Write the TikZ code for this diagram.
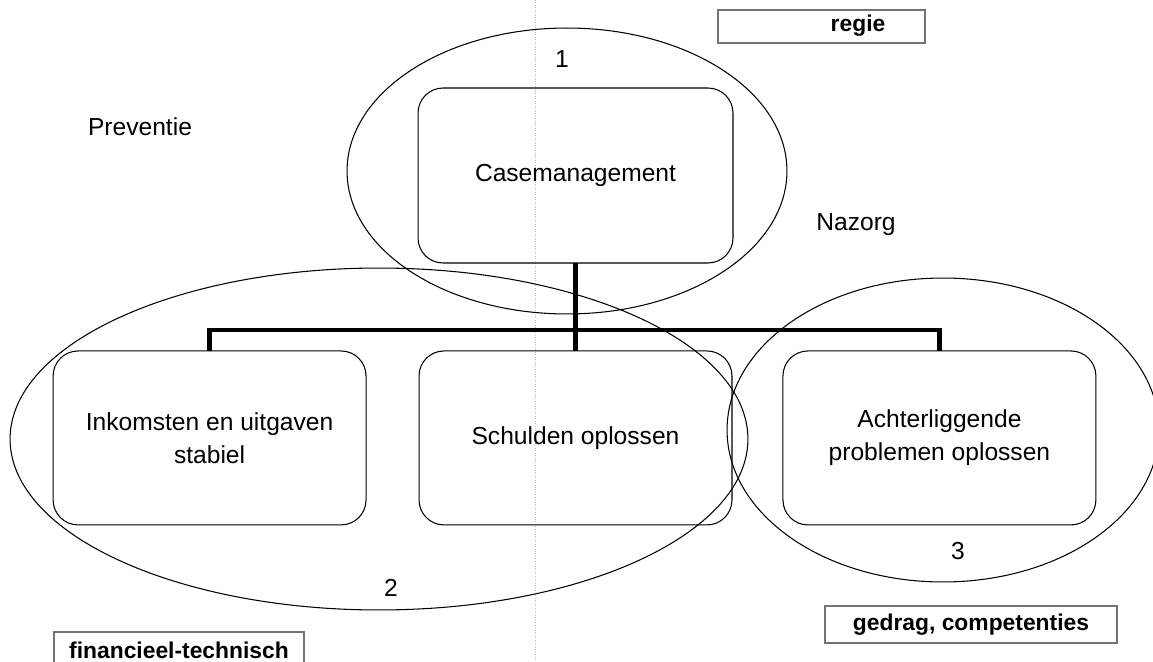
\documentclass[tikz,border=0pt]{standalone}
\usepackage{fontspec}
\setmainfont{Liberation Sans}
\usetikzlibrary{positioning}

\begin{document}
\begin{tikzpicture}[
    x=0.02cm, y=-0.02cm,
    node distance=1.76cm and 1.06cm,
    stepbox/.style={
        draw, rectangle, rounded corners=0.5cm, align=center, line width=0.6pt,
        font=\fontsize{14}{19}\selectfont, minimum width=6.26cm, minimum height=3.48cm,
        outer sep=0pt
    },
    tagbox/.style={
        draw=black!55, rectangle, line width=0.7pt, inner sep=0pt,
        font=\bfseries\fontsize{13}{15}\selectfont
    },
    plain/.style={font=\fontsize{14}{17}\selectfont},
    bar/.style={draw, line width=2.8pt},
    ring/.style={draw, line width=0.6pt}
]
    \clip (0,0) rectangle (1153,662);
    % faint scan line
    \draw[black!25, densely dotted] (535,0) -- (535,662);

    \node[stepbox, minimum width=6.3cm, minimum height=3.5cm] (Case) at (575.5,175.5) {Casemanagement};
    \node[stepbox, below=1.76cm of Case] (Debts) {Schulden oplossen};
    \node[stepbox, left=1.06cm of Debts] (Income) {Inkomsten en uitgaven\\stabiel};
    \node[stepbox, right=1.02cm of Debts] (Behind) {Achterliggende\\problemen oplossen};

    \coordinate (Hub) at (576,330);
    \draw[bar] (Case.south) -- (Debts.north);
    \draw[bar] (Income.north) |- (Hub) -| (Behind.north);

    % groups
    \draw[ring] (567,171) ellipse [x radius=4.4cm, y radius=2.86cm];
    \draw[ring] (379,439) ellipse [x radius=7.38cm, y radius=3.42cm];
    \draw[ring] (943,430) ellipse [x radius=4.32cm, y radius=3.04cm];

    \node[plain] (One) at (562,59) {1};
    \node[plain] (Two) at (391,588) {2};
    \node[plain] (Three) at (958,551) {3};
    \node[plain] (Prev) at (140,127) {Preventie};
    \node[plain] (After) at (856,225) {Nazorg};

    % tags
    \node[tagbox, minimum width=4.14cm, minimum height=0.66cm] (RegieBox) at (821.5,26.5) {};
    \node[font=\bfseries\fontsize{13}{15}\selectfont] (Regie) at (858,26) {regie};
    \node[tagbox, minimum width=5.84cm, minimum height=0.74cm] (Gedrag) at (971,624.5) {gedrag, competenties};
    \node[tagbox, minimum width=5.0cm, minimum height=0.74cm] (Financ) at (179,650.5) {financieel-technisch};
\end{tikzpicture}
\end{document}
